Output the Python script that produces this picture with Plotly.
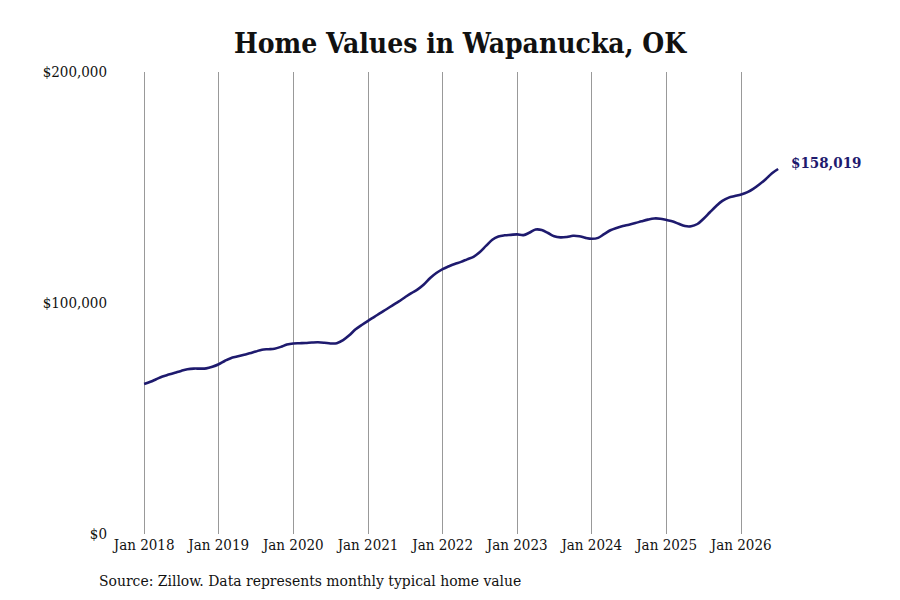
#!/usr/bin/env python
# coding: utf-8

import pandas as pd
import plotly.graph_objects as go

# Monthly typical home value, Jan 2018 - Jul 2026
start_month = "2018-01-01"
values_2018 = [64900, 65900, 67000, 68200, 69000, 69800, 70600, 71300, 71600, 71600, 71700, 72400]
values_2019 = [73500, 75000, 76100, 76800, 77500, 78200, 79000, 79800, 80000, 80200, 81000, 82000]
values_2020 = [82500, 82600, 82700, 82900, 83000, 82800, 82500, 82600, 83900, 86000, 88600, 90500]
values_2021 = [92300, 94000, 95600, 97300, 99000, 100700, 102500, 104300, 105900, 108000, 110800, 113000]
values_2022 = [114700, 115900, 116900, 117800, 118900, 120000, 122000, 124700, 127400, 128800, 129300, 129500]
values_2023 = [129700, 129400, 130400, 131800, 131600, 130300, 128900, 128400, 128600, 129100, 128900, 128200]
values_2024 = [127800, 128200, 129800, 131500, 132500, 133300, 133900, 134600, 135400, 136100, 136600, 136500]
values_2025 = [135900, 135300, 134300, 133300, 133200, 134200, 136500, 139300, 142000, 144200, 145600, 146300]
values_2026 = [147000, 148000, 149400, 151400, 153600, 156200, 158019]

tick_years = list(range(2018, 2027))
tick_labels = [f"Jan {y}" for y in tick_years]

values = (values_2018 + values_2019 + values_2020 + values_2021 + values_2022
          + values_2023 + values_2024 + values_2025 + values_2026)
dates = pd.date_range(start_month, periods=len(values), freq="MS")

serif = "DejaVu Serif Condensed, DejaVu Serif, serif"
navy = "#1e1a6e"

fig = go.Figure()
fig.add_trace(go.Scatter(
    x=dates, y=values, mode="lines",
    line=dict(color=navy, width=2.6, shape="spline"),
    showlegend=False,
))

# label on the last point
fig.add_annotation(
    x=dates[-1], y=values[-1], xref="x", yref="y",
    text=f"<b>${values[-1]:,}</b>", showarrow=False,
    xanchor="left", yanchor="middle", xshift=11, yshift=6,
    font=dict(family=serif, size=15, color=navy),
)

fig.add_annotation(
    x=-0.05, y=-0.102, xref="paper", yref="paper",
    text="Source: Zillow. Data represents monthly typical home value",
    showarrow=False, xanchor="left", yanchor="middle",
    font=dict(family=serif, size=15.5, color="#111111"),
)

# the page has an 8px body margin, so margins are offset by 8px
fig.update_layout(
    width=900, height=600,
    margin=dict(l=122, r=118, t=64, b=74),
    paper_bgcolor="white", plot_bgcolor="white",
    title=dict(
        text="<b>Home Values in Wapanucka, OK</b>",
        x=0.5, xref="paper", y=1 - 35 / 600, yref="container",
        xanchor="center", yanchor="middle",
        font=dict(family=serif, size=28, color="#111111"),
    ),
    font=dict(family=serif, size=15, color="#111111"),
    xaxis=dict(
        range=["2017-10-24", "2026-08-28"],
        tickvals=[f"{y}-01-01" for y in tick_years], ticktext=tick_labels,
        showgrid=True, gridcolor="#999999", gridwidth=1,
        showline=False, zeroline=False, ticks="",
        tickfont=dict(family=serif, size=15, color="#111111"),
    ),
    yaxis=dict(
        range=[0, 200000], tickvals=[0, 100000, 200000],
        ticktext=["$0", "$100,000", "$200,000"],
        showgrid=False, zeroline=False, showline=False, ticks="",
        ticklabelstandoff=22,
        tickfont=dict(family=serif, size=15, color="#111111"),
    ),
)

fig.write_html("out.html")
